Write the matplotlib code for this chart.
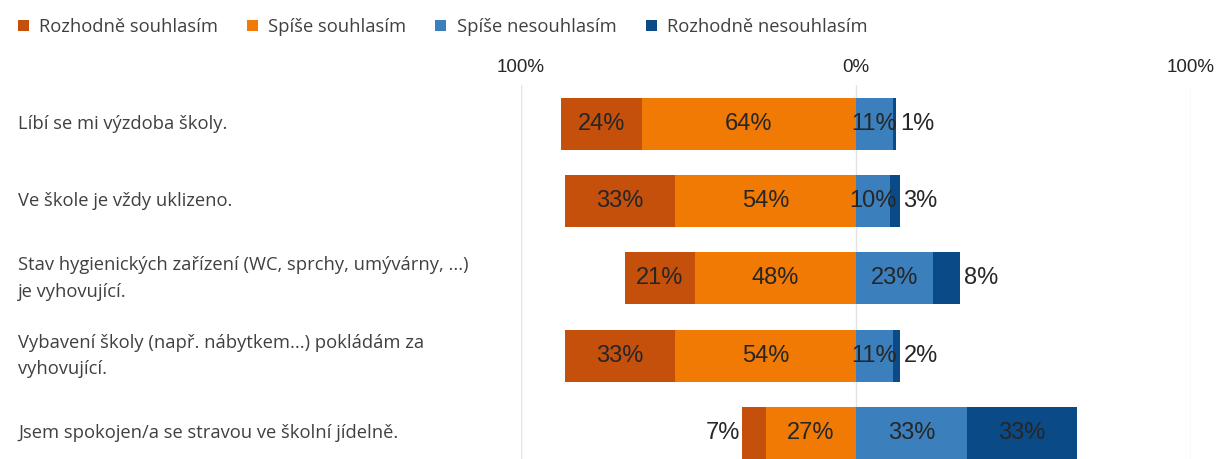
import matplotlib
matplotlib.use("Agg")
import matplotlib.pyplot as plt
from matplotlib.patches import Patch
import numpy as np

categories = [
    "Líbí se mi výzdoba školy.",
    "Ve škole je vždy uklizeno.",
    "Stav hygienických zařízení (WC, sprchy, umývárny, ...)\nje vyhovující.",
    "Vybavení školy (např. nábytkem...) pokládám za\nvyhovující.",
    "Jsem spokojen/a se stravou ve školní jídelně.",
]
series_names = ["Rozhodně souhlasím", "Spíše souhlasím", "Spíše nesouhlasím", "Rozhodně nesouhlasím"]
rozhodne_souhlasim = [24, 33, 21, 33, 7]
spise_souhlasim = [64, 54, 48, 54, 27]
spise_nesouhlasim = [11, 10, 23, 11, 33]
rozhodne_nesouhlasim = [1, 3, 8, 2, 33]
tick_values = [-100, 0, 100]
tick_labels = ["100%", "0%", "100%"]

colors = ["#C4500C", "#F07A04", "#3B7FBC", "#0A4A87"]
text_color = "#262626"
label_color = "#404040"

W, H = 1221, 459
fig = plt.figure(figsize=(W / 100, H / 100), dpi=100)
fig.patch.set_facecolor("white")

def px(x0, y0, x1, y1):
    return [x0 / W, 1 - y1 / H, (x1 - x0) / W, (y1 - y0) / H]

ax = fig.add_axes(px(521, 85, 1191, 459))
ax.set_xlim(-100, 100)
ax.set_ylim(4.337, -0.505)
ax.axis("off")

y = np.arange(len(categories))
h = 0.673
rs = np.array(rozhodne_souhlasim)
ss = np.array(spise_souhlasim)
sn = np.array(spise_nesouhlasim)
rn = np.array(rozhodne_nesouhlasim)

for v in tick_values:
    ax.axvline(v, color="#E3E3E3", lw=1, zorder=0)

ax.barh(y, -ss, left=0, height=h, color=colors[1], zorder=2)
ax.barh(y, -rs, left=-ss, height=h, color=colors[0], zorder=2)
ax.barh(y, sn, left=0, height=h, color=colors[2], zorder=2)
ax.barh(y, rn, left=sn, height=h, color=colors[3], zorder=2)

fs_val = 17
fam_val = "Liberation Sans"
for i in range(len(categories)):
    ax.text(-ss[i] / 2, y[i], f"{ss[i]}%", ha="center", va="center", fontsize=fs_val,
            family=fam_val, color=text_color, zorder=3)
    ax.text(sn[i] / 2, y[i], f"{sn[i]}%", ha="center", va="center", fontsize=fs_val,
            family=fam_val, color=text_color, zorder=3)
    if rs[i] < 10:
        ax.text(-ss[i] - rs[i] - 0.6, y[i], f"{rs[i]}%", ha="right", va="center", fontsize=fs_val,
                family=fam_val, color=text_color, zorder=3)
    else:
        ax.text(-ss[i] - rs[i] / 2, y[i], f"{rs[i]}%", ha="center", va="center", fontsize=fs_val,
                family=fam_val, color=text_color, zorder=3)
    if rn[i] < 10:
        ax.text(sn[i] + rn[i] + 1.2, y[i], f"{rn[i]}%", ha="left", va="center", fontsize=fs_val,
                family=fam_val, color=text_color, zorder=3)
    else:
        ax.text(sn[i] + rn[i] / 2, y[i], f"{rn[i]}%", ha="center", va="center", fontsize=fs_val,
                family=fam_val, color=text_color, zorder=3)

for v, lab in zip(tick_values, tick_labels):
    ax.text(v, -0.505 - 0.23, lab, ha="center", va="center", fontsize=13.5,
            family=fam_val, color=text_color, clip_on=False)

trans = matplotlib.transforms.blended_transform_factory(fig.transFigure, ax.transData)
for i, cat in enumerate(categories):
    ax.text(18 / W, y[i], cat, transform=trans,
            ha="left", va="center", fontsize=13.2, family="Open Sans", color=label_color,
            linespacing=1.6)

handles = [Patch(facecolor=c, edgecolor="none") for c in colors]
fig.legend(handles, series_names, loc="center left", bbox_to_anchor=(1 / W, 1 - 27 / H),
           ncol=4, frameon=False, handlelength=0.6, handleheight=0.6, handletextpad=0.55,
           columnspacing=1.6, prop={"family": "Open Sans", "size": 13.2}, labelcolor=label_color)

fig.savefig("out.png", dpi=100, facecolor="white")
